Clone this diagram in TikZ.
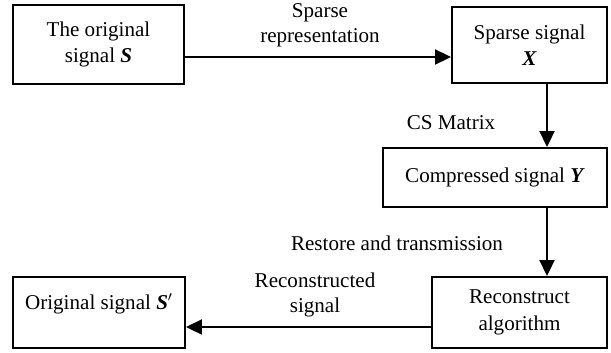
\documentclass[tikz,border=0pt]{standalone}
\usepackage{fontspec}
\setmainfont{Liberation Serif}
\usetikzlibrary{arrows.meta}
\tikzset{>={Triangle[length=3.2mm,width=3mm]}}
\tikzset{
  blk/.style={draw, line width=1.1pt, inner sep=0pt, align=center,
    font=\fontsize{12}{15}\selectfont},
  lbl/.style={inner sep=0pt, align=center, font=\fontsize{12}{14.5}\selectfont},
  flow/.style={->, line width=1.1pt}
}
\newcommand{\bsym}[1]{\textbf{\textit{#1}}}

\begin{document}
\begin{tikzpicture}[x=0.02cm, y=-0.02cm]
    \useasboundingbox (0, 0) rectangle (611, 352);
    \node[blk, minimum width=3.42cm, minimum height=1.58cm] (orig) at (98.5, 44.5)
      {The original\\signal \bsym{S}};
    \node[blk, minimum width=3.1cm, minimum height=1.52cm] (sparse) at (529.5, 45)
      {Sparse signal\\\bsym{X}};
    \node[blk, minimum width=4.48cm, minimum height=1.18cm] (comp) at (495, 177.5)
      {Compressed signal \bsym{Y}};
    \node[blk, minimum width=3.5cm, minimum height=1.42cm] (recon) at (519.5, 312.5)
      {Reconstruct\\algorithm};
    \node[draw, line width=1.1pt, minimum width=3.44cm, minimum height=1.42cm] (rest) at (99, 312.5) {};
    \node[lbl] (restxt) at (99, 304) {Original signal \bsym{S}$'$};
    \coordinate (ya) at (0, 57);
    \coordinate (xb) at (547, 0);
    \coordinate (yc) at (0, 327);
    \draw[flow] (orig.east |- ya) -- (sparse.west |- ya);
    \draw[flow] (xb |- sparse.south) -- (xb |- comp.north);
    \draw[flow] (xb |- comp.south) -- (xb |- recon.north);
    \draw[flow] (recon.west |- yc) -- (rest.east |- yc);
    \node[lbl] (sprl) at (320, 25) {Sparse\\representation};
    \node[lbl] (csml) at (451, 123) {CS Matrix};
    \node[lbl] (rstl) at (397, 243) {Restore and transmission};
    \node[lbl] (rcsl) at (315, 295) {Reconstructed\\signal};
\end{tikzpicture}
\end{document}
